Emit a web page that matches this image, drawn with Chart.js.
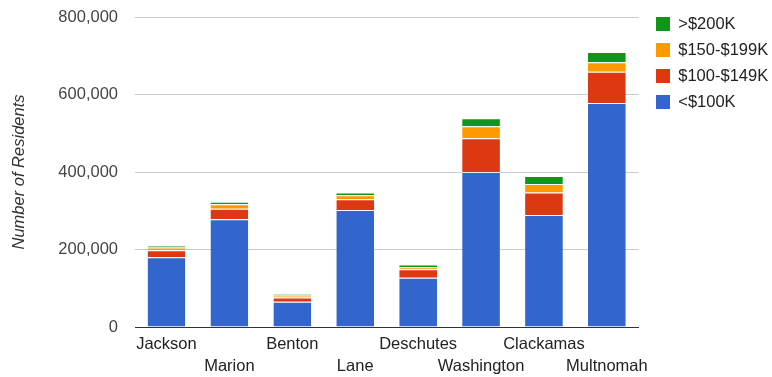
<!DOCTYPE html>
<html>
<head>
<meta charset="utf-8">
<script src="https://cdn.jsdelivr.net/npm/chart.js@4/dist/chart.umd.min.js"></script>
<style>
  html, body { margin: 0; padding: 0; background: #fff; }
  #wrap { width: 772px; height: 377px; position: relative; }
</style>
</head>
<body>
<div id="wrap"><canvas id="c" width="772" height="377"></canvas></div>
<script>
const categories = ['Jackson', 'Marion', 'Benton', 'Lane', 'Deschutes', 'Washington', 'Clackamas', 'Multnomah'];
const under100K = [180000, 278000, 65000, 302000, 127000, 400000, 289000, 578000];
const from100to149K = [18000, 27000, 11000, 28000, 22000, 87000, 58000, 81000];
const from150to199K = [7000, 12000, 5000, 10000, 5000, 31000, 22000, 24000];
const over200K = [5000, 6000, 4000, 7000, 7000, 21000, 21000, 27000];
const seriesNames = ['<$100K', '$100-$149K', '$150-$199K', '>$200K'];
const seriesColors = ['#3366cc', '#dc3912', '#ff9900', '#109618'];
const yTicks = [0, 200000, 400000, 600000, 800000];

const FONT = "Arial, 'Liberation Sans', sans-serif";
const FS = 16.5;

const seriesData = [under100K, from100to149K, from150to199K, over200K];
const datasets = seriesData.map((d, i) => ({
  label: seriesNames[i],
  data: d,
  backgroundColor: seriesColors[i],
  borderColor: 'rgba(255,255,255,0.6)',
  borderWidth: { top: 1, left: 0, right: 0, bottom: 0 },
  borderSkipped: false,
  categoryPercentage: 1.0,
  barPercentage: 0.6
}));

const legendShift = {
  id: 'legendShift',
  afterLayout(chart) {
    const lg = chart.legend;
    if (!lg) return;
    const lo = lg.options.labels;
    const pad = lo.padding;
    const boxOff = Math.max((FS - lo.boxHeight) / 2, 0);
    const dx = (656 - pad) - lg.left;
    const dy = (17 - boxOff - pad) - lg.top;
    lg.left += dx; lg.right += dx;
    lg.top += dy; lg.bottom += dy;
  }
};

new Chart(document.getElementById('c'), {
  type: 'bar',
  data: { labels: categories, datasets: datasets },
  options: {
    responsive: false,
    animation: false,
    events: [],
    layout: { padding: { top: 17, right: 2, bottom: 0, left: 0 } },
    plugins: {
      tooltip: { enabled: false },
      legend: {
        position: 'right',
        align: 'start',
        reverse: true,
        labels: {
          boxWidth: 14,
          boxHeight: 14,
          padding: 9.5,
          color: '#222',
          font: { family: FONT, size: FS },
          generateLabels(chart) {
            const items = Chart.defaults.plugins.legend.labels.generateLabels(chart);
            items.forEach(it => { it.strokeStyle = it.fillStyle; it.lineWidth = 0; });
            return items;
          }
        }
      }
    },
    scales: {
      x: {
        stacked: true,
        grid: { display: false },
        border: { display: true, color: '#333', width: 1 },
        ticks: {
          autoSkip: false,
          maxRotation: 0,
          minRotation: 0,
          padding: -2,
          color: '#222',
          font: { family: FONT, size: FS, lineHeight: 22 / FS },
          callback(value, index) {
            const name = categories[index];
            return index % 2 === 0 ? [name, ''] : ['', name];
          }
        },
        afterFit(scale) { scale.height = 50; }
      },
      y: {
        stacked: true,
        min: 0,
        max: 800000,
        afterBuildTicks(scale) { scale.ticks = yTicks.map(v => ({ value: v })); },
        grid: {
          drawTicks: false,
          color: (ctx) => ctx.tick && ctx.tick.value === 0 ? '#333' : '#cccccc',
          lineWidth: 1
        },
        border: { display: false },
        ticks: {
          padding: 17,
          color: '#444',
          font: { family: FONT, size: FS },
          callback(v) { return Number(v).toLocaleString('en-US'); }
        },
        title: {
          display: true,
          text: 'Number of Residents',
          color: '#333',
          font: { family: FONT, size: FS, style: 'italic' },
          padding: { top: 10, bottom: 0 }
        },
        afterFit(scale) {
          scale.width = 135;
          scale.paddingTop = 0;
          scale.paddingBottom = 0;
        }
      }
    }
  },
  plugins: [legendShift]
});
</script>
</body>
</html>
